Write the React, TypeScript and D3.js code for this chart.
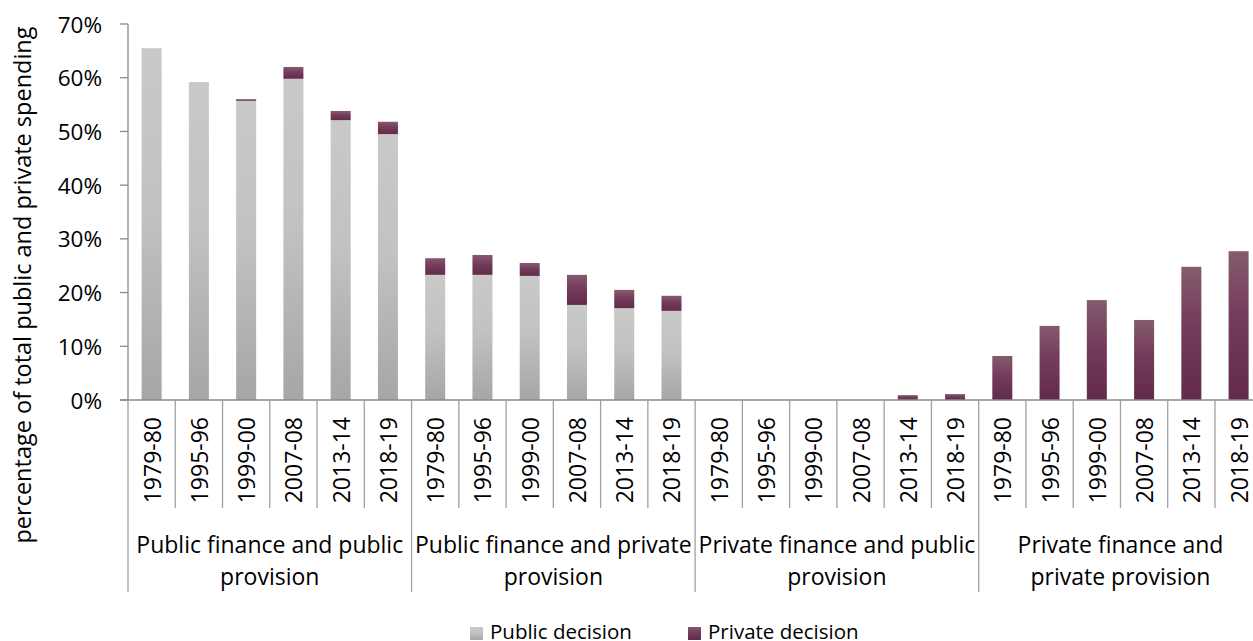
import React from "react";
import * as d3 from "d3";

const years = ["1979-80", "1995-96", "1999-00", "2007-08", "2013-14", "2018-19"];
const groups = [
  ["Public finance and public", "provision"],
  ["Public finance and private", "provision"],
  ["Private finance and public", "provision"],
  ["Private finance and", "private provision"],
];
const publicDecision = [
  65.5, 59.2, 55.7, 59.8, 52.1, 49.5,
  23.3, 23.3, 23.1, 17.7, 17.1, 16.6,
  0, 0, 0, 0, 0, 0,
  0, 0, 0, 0, 0, 0,
];
const privateDecision = [
  0, 0, 0.3, 2.2, 1.7, 2.3,
  3.1, 3.7, 2.4, 5.6, 3.4, 2.8,
  0, 0, 0, 0, 0.9, 1.1,
  8.2, 13.8, 18.6, 14.9, 24.8, 27.7,
];
const yTicks = [0, 10, 20, 30, 40, 50, 60, 70];
const seriesNames = ["Public decision", "Private decision"];

const W = 1253;
const H = 641;
const left = 128;
const top = 24;
const base = 400;
const step = 47.26;
const FONT = "'Open Sans', sans-serif";

export default function App() {
  const n = groups.length * years.length;
  const idx = d3.range(n);
  const x = d3.scaleBand<number>().domain(idx).range([left, left + n * step]).padding(0);
  const y = d3.scaleLinear().domain([0, 70]).range([base, top]);
  const bw = 20;
  const axisColor = "#8a8a8a";
  const sepColor = "#a0a0a0";

  return (
    <svg width={W} height={H} style={{ position: "absolute", left: 0, top: 0 }} fontFamily={FONT}>
      <defs>
        <linearGradient id="gPub" x1="0" y1="0" x2="0" y2="1">
          <stop offset="0%" stopColor="#c9c9c9" />
          <stop offset="45%" stopColor="#c2c2c2" />
          <stop offset="100%" stopColor="#a6a6a6" />
        </linearGradient>
        <linearGradient id="gPriv" x1="0" y1="0" x2="0" y2="1">
          <stop offset="0%" stopColor="#855b6d" />
          <stop offset="45%" stopColor="#743b5b" />
          <stop offset="100%" stopColor="#622b4a" />
        </linearGradient>
      </defs>

      {/* bars */}
      {idx.map((i) => {
        const cx = (x(i) as number) + x.bandwidth() / 2;
        const p = publicDecision[i];
        const q = privateDecision[i];
        return (
          <g key={i}>
            {p > 0 && (
              <rect x={cx - bw / 2} y={y(p)} width={bw} height={base - y(p)} fill="url(#gPub)" />
            )}
            {q > 0 && (
              <rect x={cx - bw / 2} y={y(p + q)} width={bw} height={y(p) - y(p + q)} fill="url(#gPriv)" />
            )}
          </g>
        );
      })}

      {/* y axis */}
      <line x1={left} x2={left} y1={top} y2={base} stroke={axisColor} strokeWidth={1.3} />
      {yTicks.map((t) => (
        <g key={t}>
          <line x1={left - 8} x2={left} y1={y(t)} y2={y(t)} stroke={axisColor} strokeWidth={1.3} />
          <text x={102} y={y(t)} textAnchor="end" dominantBaseline="central" fontSize={22.5} fill="#000">
            {t}%
          </text>
        </g>
      ))}
      <text
        transform={`translate(22,${285}) rotate(-90)`}
        textAnchor="middle"
        dominantBaseline="central"
        fontSize={23.5}
        fill="#000"
      >
        percentage of total public and private spending
      </text>

      {/* x axis */}
      <line x1={left - 8} x2={left + n * step} y1={base} y2={base} stroke={axisColor} strokeWidth={1.3} />
      {d3.range(n + 1).map((i) => {
        const xx = left + i * step;
        const isGroup = i % years.length === 0;
        return (
          <line key={i} x1={xx} x2={xx} y1={base} y2={isGroup ? 592 : 508} stroke={sepColor} strokeWidth={1.3} />
        );
      })}
      {idx.map((i) => {
        const cx = (x(i) as number) + x.bandwidth() / 2;
        return (
          <text
            key={i}
            transform={`translate(${cx},${417}) rotate(-90)`}
            textAnchor="end"
            dominantBaseline="central"
            fontSize={23}
            fill="#000"
          >
            {years[i % years.length]}
          </text>
        );
      })}
      {groups.map((g, gi) => {
        const cx = left + (gi * years.length + years.length / 2) * step;
        return (
          <g key={gi}>
            <text x={cx} y={544} textAnchor="middle" dominantBaseline="central" fontSize={23} fill="#000">
              {g[0]}
            </text>
            <text x={cx} y={576} textAnchor="middle" dominantBaseline="central" fontSize={23} fill="#000">
              {g[1]}
            </text>
          </g>
        );
      })}

      {/* legend */}
      {seriesNames.map((s, si) => {
        const lx = si === 0 ? 470 : 688;
        return (
          <g key={s}>
            <rect x={lx} y={627} width={13} height={13} fill={si === 0 ? "url(#gPub)" : "url(#gPriv)"} />
            <text x={lx + 20} y={639} fontSize={20.5} fill="#000">
              {s}
            </text>
          </g>
        );
      })}
    </svg>
  );
}
